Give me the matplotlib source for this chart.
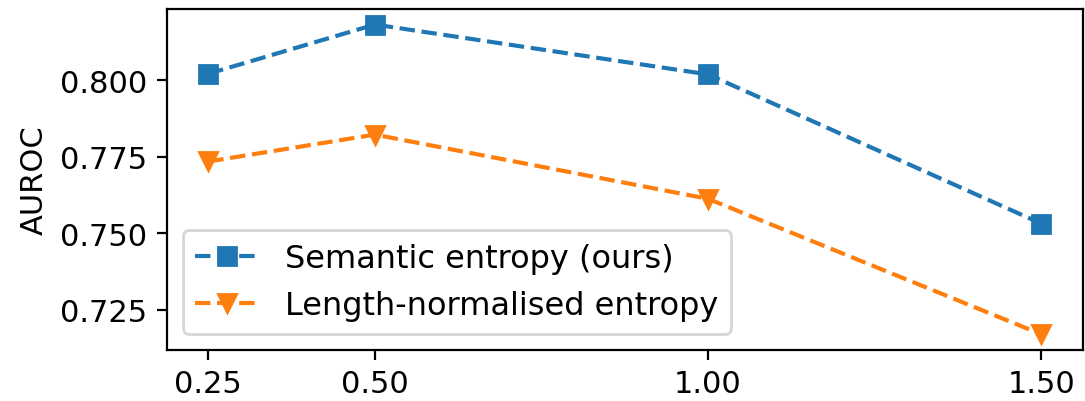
import matplotlib
matplotlib.use("Agg")
import matplotlib.pyplot as plt

x_vals = [0.25, 0.50, 1.00, 1.50]
x_labels = ["0.25", "0.50", "1.00", "1.50"]
semantic = [0.8022, 0.8183, 0.8020, 0.7532]
length_norm = [0.7735, 0.7823, 0.7613, 0.7170]

plt.rcParams['font.family'] = ['DejaVu Sans']
plt.rcParams['font.size'] = 11

fig = plt.figure(figsize=(5.425, 2.01), dpi=200)
ax = fig.add_axes([0.1536, 0.1276, 0.998 - 0.1536, 0.975 - 0.1276])

ax.plot(x_vals, semantic, linestyle='--', marker='s', color='#1f77b4',
        markersize=6.5, label='Semantic entropy (ours)')
ax.plot(x_vals, length_norm, linestyle='--', marker='v', color='#ff7f0e',
        markersize=6.5, label='Length-normalised entropy')

ax.set_xticks(x_vals)
ax.set_xticklabels(x_labels)
ax.set_yticks([0.725, 0.750, 0.775, 0.800])
ax.set_ylabel('AUROC')
ax.legend(loc='lower left', fontsize=11.5)

fig.savefig('out.png', dpi=200)
